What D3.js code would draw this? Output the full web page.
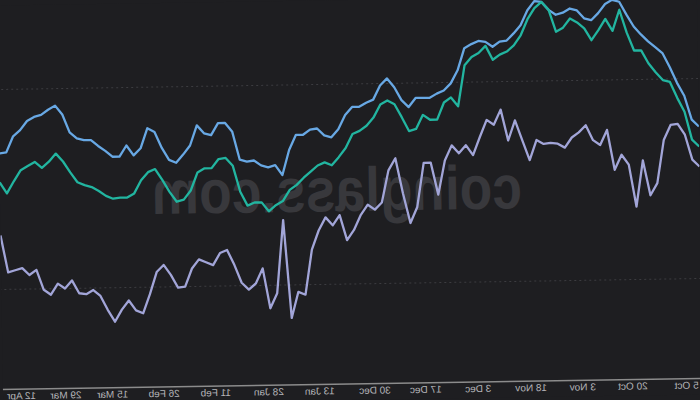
<!DOCTYPE html>
<html>
<head>
<meta charset="utf-8">
<script src="https://cdn.jsdelivr.net/npm/d3@7"></script>
<style>
html, body { margin: 0; padding: 0; background: #1e1e21; overflow: hidden; }
#chart { display: block; transform: rotate(-0.9deg) scaleX(-1); transform-origin: 350px 200px; }
</style>
</head>
<body>
<svg id="chart" width="700" height="400"></svg>
<script>
// values sampled every 2nd day, oldest first
var blueSeries = [25.2,25.9,28.3,29.6,31.2,32.6,33.2,33.8,34.5,35.3,
  36.5,37.8,38.0,37.6,36.7,36.0,36.2,37.0,37.2,36.8,
  36.6,37.1,37.9,38.0,37.1,35.6,34.8,34.1,34.0,33.5,
  34.0,34.1,33.8,33.4,31.2,29.9,29.2,28.9,28.5,28.5,
  28.5,27.6,28.3,29.6,30.5,29.8,28.4,28.1,27.7,27.7,
  26.9,25.5,24.7,24.9,25.6,25.5,25.0,25.0,23.5,21.0,
  22.0,21.8,22.0,22.5,22.4,22.6,25.4,26.3,26.3,25.1,
  25.3,26.1,24.1,23.2,22.4,22.7,23.9,25.5,25.9,23.9,
  23.2,24.2,23.1,23.1,23.7,24.2,24.8,24.8,25.0,25.6,
  27.4,28.3,27.9,27.4,27.2,26.8,25.9,25.3,23.7,23.6];

var tealSeries = [23.2,23.9,26.7,28.1,29.7,29.9,30.7,31.6,32.9,32.9,
  34.7,37.0,34.9,36.1,35.0,34.0,35.2,35.8,36.2,35.3,
  34.9,37.1,37.9,37.3,36.2,34.6,33.6,33.0,32.7,32.2,
  33.6,32.9,32.5,31.7,27.6,28.5,28.0,26.3,26.3,26.8,
  25.4,25.2,26.6,27.9,28.3,27.9,26.6,25.8,25.3,25.0,
  23.6,22.7,21.9,22.2,21.9,21.3,20.7,20.0,19.5,18.4,
  18.0,17.4,18.3,18.3,18.0,19.4,22.0,22.8,22.7,21.8,
  21.8,21.4,19.6,18.7,18.5,19.5,20.7,21.8,21.5,20.7,
  19.4,19.0,19.0,18.9,19.2,19.7,20.1,20.3,20.6,21.6,
  22.7,23.5,22.7,22.1,22.7,22.3,21.9,20.8,19.6,20.7];

var lavenderSeries = [21.2,21.9,24.4,25.5,25.4,23.9,19.6,18.4,21.9,17.3,
  21.5,22.5,21.0,25.0,23.5,24.0,25.5,24.8,24.3,23.3,
  23.7,23.8,23.7,24.1,22.1,24.1,26.1,24.1,27.2,25.7,
  26.2,24.5,22.7,23.7,22.9,23.7,22.2,18.8,22.0,22.0,
  17.6,16.0,19.0,22.5,21.3,18.1,17.4,17.9,16.9,15.4,
  14.4,16.9,15.9,16.7,15.4,13.5,9.0,9.3,6.7,16.5,
  9.2,7.7,11.7,10.2,9.6,10.3,12.1,13.6,13.3,12.1,
  12.4,12.7,11.8,10.0,9.9,11.2,12.2,11.5,9.3,7.4,
  7.7,8.7,7.8,6.6,7.8,9.2,9.8,9.4,9.5,10.8,
  10.0,10.5,9.4,9.9,11.9,11.4,12.1,11.9,11.7,15.4];

var tickLabels = ["5 Oct","20 Oct","3 Nov","18 Nov","3 Dec","17 Dec","30 Dec",
  "13 Jan","28 Jan","11 Feb","26 Feb","15 Mar","29 Mar","12 Apr"];
var tickIndex = [2.3,9.9,17.0,24.3,31.8,39.2,46.4,54.2,61.4,68.9,76.2,83.5,90.1,97.6];
var gridValues = [10, 30];

function drawChart(id) {
  var svg = d3.select("#" + id),
    width = +svg.attr("width"),
    height = +svg.attr("height");

  var x = d3.scaleLinear().domain([0, blueSeries.length - 1]).range([0, width]);
  var y = d3.scaleLinear().domain([0, 38.4]).range([384, 0]);

  svg.append("rect")
    .attr("x", -20).attr("y", -20)
    .attr("width", width + 40).attr("height", height + 40)
    .attr("fill", "#1e1e21");

  svg.append("g")
    .selectAll("line")
    .data(gridValues)
    .enter().append("line")
      .attr("x1", -20).attr("x2", width + 20)
      .attr("y1", function(d) { return y(d); })
      .attr("y2", function(d) { return y(d); })
      .attr("stroke", "#3c3c40")
      .attr("stroke-width", 1)
      .attr("stroke-dasharray", "2,3");

  // watermark
  svg.append("text")
    .attr("x", 363).attr("y", 211)
    .attr("text-anchor", "middle")
    .attr("textLength", 370)
    .attr("lengthAdjust", "spacingAndGlyphs")
    .style("font", "bold 62px 'Liberation Sans', Arial, sans-serif")
    .attr("fill", "#38383c")
    .text("coinglass.com");

  var line = d3.line()
    .x(function(d, i) { return x(i); })
    .y(function(d) { return y(d); });

  var series = [
    { values: lavenderSeries, color: "#a2a5d8" },
    { values: blueSeries, color: "#68a8e4" },
    { values: tealSeries, color: "#22b5a0" }
  ];

  svg.append("g")
    .selectAll("path")
    .data(series)
    .enter().append("path")
      .attr("d", function(d) { return line(d.values); })
      .attr("fill", "none")
      .attr("stroke", function(d) { return d.color; })
      .attr("stroke-width", 2.3)
      .attr("stroke-linejoin", "round");

  svg.append("line")
    .attr("x1", -20).attr("x2", width + 20)
    .attr("y1", y(0)).attr("y2", y(0))
    .attr("stroke", "#8c8c8c")
    .attr("stroke-width", 1.5);

  var labels = svg.append("g")
    .selectAll("text")
    .data(tickLabels)
    .enter().append("text")
      .attr("x", function(d, i) { return x(tickIndex[i]); })
      .attr("y", 394)
      .attr("text-anchor", "middle")
      .style("font", "10px 'Liberation Sans', Arial, sans-serif")
      .attr("fill", "#b4b4b8")
      .text(function(d) { return d; });

  // keep edge labels inside the frame
  labels.each(function() {
    var t = d3.select(this),
      half = this.getComputedTextLength() / 2 + 4,
      cx = +t.attr("x");
    t.attr("x", Math.max(half, Math.min(width - half, cx)));
  });
}

drawChart("chart");
</script>
</body>
</html>
